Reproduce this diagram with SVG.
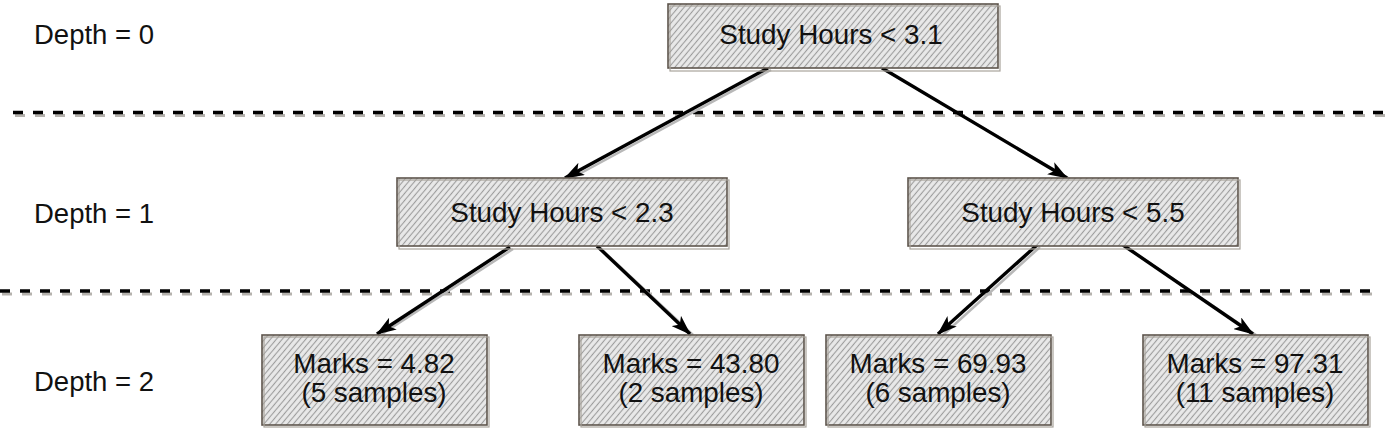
<svg xmlns="http://www.w3.org/2000/svg" width="1400" height="429" viewBox="0 0 1400 429">
  <style>
    .box { fill: url(#hatch); stroke: #5e554d; stroke-width: 1.6; }
    .box2 { fill: none; stroke: #a9a49c; stroke-width: 1.2; }
    .txt { font-family: "Liberation Sans", Arial, sans-serif; font-size: 27.8px; fill: #111; text-anchor: middle; }
    .lbl { font-family: "Liberation Sans", Arial, sans-serif; font-size: 27.5px; fill: #111; }
    .dash { stroke: #000; stroke-width: 3.5; stroke-dasharray: 10 10; fill: none; }
    .dashsh { stroke: #b5b2ad; stroke-width: 3; stroke-dasharray: 10 10; fill: none; }
    .edge { stroke: #000; stroke-width: 3.4; fill: none; marker-end: url(#arr); }
    .edgesh { stroke: #b8b8b8; stroke-width: 2.5; fill: none; }
  </style>
  <defs>
    <pattern id="hatch" patternUnits="userSpaceOnUse" width="4.5" height="4.5" patternTransform="rotate(-50)">
      <rect width="4.5" height="4.5" fill="#e9e9e9"/>
      <line x1="0" y1="2.25" x2="4.5" y2="2.25" stroke="#9c9c9c" stroke-width="1.1"/>
    </pattern>
    <marker id="arr" markerUnits="userSpaceOnUse" viewBox="0 0 20 14" markerWidth="20" markerHeight="14" refX="19" refY="7" orient="auto">
      <path d="M0,0 L20,7 L0,14 L5,7 Z" fill="#000"/>
    </marker>
  </defs>

  <rect width="1400" height="429" fill="#fff"/>

  <g id="depth-lines">
    <line class="dashsh" x1="15" y1="115.5" x2="1389" y2="115.5"/>
    <line class="dash" x1="13" y1="112.5" x2="1387" y2="112.5"/>
    <line class="dashsh" x1="2" y1="294" x2="1378" y2="294"/>
    <line class="dash" x1="0" y1="291" x2="1376" y2="291"/>
  </g>

  <g id="depth-labels">
    <text class="lbl" x="34" y="44">Depth = 0</text>
    <text class="lbl" x="34" y="223">Depth = 1</text>
    <text class="lbl" x="34" y="391">Depth = 2</text>
  </g>

  <g id="connectors">
    <line class="edgesh" x1="771" y1="70" x2="570" y2="179"/>
    <line class="edge" x1="768" y1="68" x2="565" y2="178"/>
    <line class="edgesh" x1="885" y1="70" x2="1070" y2="179"/>
    <line class="edge" x1="882" y1="68" x2="1067" y2="178"/>
    <line class="edgesh" x1="513" y1="249" x2="382" y2="334"/>
    <line class="edge" x1="510" y1="247" x2="377" y2="334"/>
    <line class="edgesh" x1="600" y1="248" x2="693" y2="335"/>
    <line class="edge" x1="597" y1="246" x2="690" y2="334"/>
    <line class="edgesh" x1="1040" y1="247" x2="943" y2="335"/>
    <line class="edge" x1="1037" y1="245" x2="938" y2="334"/>
    <line class="edgesh" x1="1126" y1="247" x2="1256" y2="335"/>
    <line class="edge" x1="1123" y1="245" x2="1253" y2="334"/>
  </g>

  <g id="node-root">
    <rect class="box" x="668" y="4" width="330" height="64"/>
    <rect class="box2" x="670" y="6" width="330" height="65"/>
    <text class="txt" x="831" y="44">Study Hours &lt; 3.1</text>
  </g>

  <g id="node-left">
    <rect class="box" x="397" y="178" width="330" height="68"/>
    <rect class="box2" x="399" y="180" width="330" height="69"/>
    <text class="txt" x="562" y="222">Study Hours &lt; 2.3</text>
  </g>

  <g id="node-right">
    <rect class="box" x="908" y="178" width="330" height="68"/>
    <rect class="box2" x="910" y="180" width="330" height="69"/>
    <text class="txt" x="1073" y="222">Study Hours &lt; 5.5</text>
  </g>

  <g id="leaf-1">
    <rect class="box" x="262" y="335" width="225" height="90"/>
    <rect class="box2" x="264" y="337" width="225" height="90"/>
    <text class="txt" x="374" y="373">Marks = 4.82</text>
    <text class="txt" x="374" y="402">(5 samples)</text>
  </g>

  <g id="leaf-2">
    <rect class="box" x="579" y="335" width="225" height="90"/>
    <rect class="box2" x="581" y="337" width="225" height="90"/>
    <text class="txt" x="691" y="373">Marks = 43.80</text>
    <text class="txt" x="691" y="402">(2 samples)</text>
  </g>

  <g id="leaf-3">
    <rect class="box" x="826" y="335" width="225" height="90"/>
    <rect class="box2" x="828" y="337" width="225" height="90"/>
    <text class="txt" x="938" y="373">Marks = 69.93</text>
    <text class="txt" x="938" y="402">(6 samples)</text>
  </g>

  <g id="leaf-4">
    <rect class="box" x="1143" y="335" width="225" height="90"/>
    <rect class="box2" x="1145" y="337" width="225" height="90"/>
    <text class="txt" x="1255" y="373">Marks = 97.31</text>
    <text class="txt" x="1255" y="402">(11 samples)</text>
  </g>
</svg>
